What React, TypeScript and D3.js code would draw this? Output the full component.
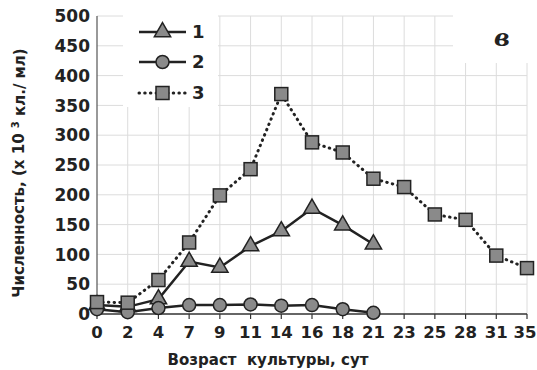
import { useEffect, useRef } from 'react'
import { select, scalePoint, scaleLinear, line, symbol, symbolTriangle } from 'd3'

const W = 537
const H = 370
const margin = { top: 16, right: 10, bottom: 56, left: 97 }

// culture age, days
const days = ['0', '2', '4', '7', '9', '11', '14', '16', '18', '21', '23', '25', '28', '31', '35']
const series1 = [15, 12, 25, 88, 78, 114, 139, 177, 149, 117]
const series2 = [8, 3, 10, 15, 15, 16, 14, 15, 8, 2]
const series3 = [20, 19, 57, 120, 199, 243, 369, 288, 271, 227, 213, 167, 158, 98, 77]
const yTicks = [0, 50, 100, 150, 200, 250, 300, 350, 400, 450, 500]
const legendNames = ['1', '2', '3']

const font = '"DejaVu Sans", Arial, sans-serif'
const dark = '#222'
const fillGray = '#8a8a8a'
const grid = '#dcdcdc'

const App = () => {
  const svgRef = useRef<SVGSVGElement>(null)

  useEffect(() => {
    const svg = select(svgRef.current)
    svg.selectAll('*').remove()

    const x = scalePoint<string>().domain(days).range([margin.left, W - margin.right])
    const y = scaleLinear().domain([0, 500]).range([H - margin.bottom, margin.top])
    const x0 = margin.left
    const x1 = W - margin.right

    // grid
    const g = svg.append('g')
    g.selectAll('.hg').data(yTicks.filter(d => d > 0)).join('line')
      .attr('x1', x0).attr('x2', x1).attr('y1', d => y(d)).attr('y2', d => y(d))
      .attr('stroke', grid).attr('stroke-width', 1)
    g.selectAll('.vg').data(days.slice(1)).join('line')
      .attr('x1', d => x(d)!).attr('x2', d => x(d)!).attr('y1', y(500)).attr('y2', y(0))
      .attr('stroke', grid).attr('stroke-width', 1)

    // white boxes for legend and panel letter
    svg.append('rect').attr('x', 123).attr('y', 10).attr('width', 95).attr('height', 97).attr('fill', '#fff')
    svg.append('rect').attr('x', 453).attr('y', 0).attr('width', 84).attr('height', 63).attr('fill', '#fff')

    // axes
    svg.append('line').attr('x1', x0).attr('x2', x0).attr('y1', y(500)).attr('y2', y(0))
      .attr('stroke', '#555').attr('stroke-width', 1.2)
    svg.append('line').attr('x1', x0).attr('x2', x1).attr('y1', y(0)).attr('y2', y(0))
      .attr('stroke', '#333').attr('stroke-width', 1.5)
    svg.selectAll('.xt').data(days).join('line')
      .attr('x1', d => x(d)!).attr('x2', d => x(d)!).attr('y1', y(0)).attr('y2', y(0) + 5)
      .attr('stroke', '#333').attr('stroke-width', 1.2)

    svg.selectAll('.yl').data(yTicks).join('text')
      .attr('x', x0 - 7).attr('y', d => y(d)).attr('dy', '0.36em')
      .attr('text-anchor', 'end').attr('font-family', font).attr('font-weight', 'bold')
      .attr('font-size', 17).attr('fill', dark).text(d => d)
    svg.selectAll('.xl').data(days).join('text')
      .attr('x', d => x(d)!).attr('y', y(0) + 24)
      .attr('dx', (d, i) => (i === days.length - 1 ? -2 : 0))
      .attr('text-anchor', 'middle').attr('font-family', font).attr('font-weight', 'bold')
      .attr('font-size', 16.5).attr('fill', dark).text(d => d)

    svg.append('text').attr('x', 268).attr('y', 365).attr('text-anchor', 'middle')
      .attr('font-family', font).attr('font-weight', 'bold').attr('font-size', 15).attr('fill', dark)
      .attr('xml:space', 'preserve').text('Возраст  культуры, сут')

    const yt = svg.append('text').attr('transform', `translate(19,${173}) rotate(-90)`)
      .attr('text-anchor', 'middle').attr('dy', '0.36em')
      .attr('font-family', font).attr('font-weight', 'bold').attr('font-size', 15).attr('fill', dark)
    yt.append('tspan').text('Численность, (х 10 ')
    yt.append('tspan').attr('font-size', 10).attr('dy', '-0.5em').text('3')
    yt.append('tspan').attr('dy', '0.35em').text(' кл./ мл)')

    svg.append('text').attr('x', 502).attr('y', 46).attr('text-anchor', 'middle')
      .attr('font-family', '"DejaVu Serif", serif').attr('font-style', 'italic').attr('font-weight', 'bold')
      .attr('font-size', 24).attr('fill', dark).text('в')

    // lines
    const mk = (vals: number[]) => line<number>().x((_, i) => x(days[i])!).y(d => y(d))(vals)
    svg.append('path').attr('d', mk(series3)).attr('fill', 'none').attr('stroke', dark)
      .attr('stroke-width', 3).attr('stroke-dasharray', '0.5 5.2').attr('stroke-linecap', 'round')
    svg.append('path').attr('d', mk(series1)).attr('fill', 'none').attr('stroke', dark).attr('stroke-width', 2.5)
    svg.append('path').attr('d', mk(series2)).attr('fill', 'none').attr('stroke', dark).attr('stroke-width', 2.5)

    const tri = symbol().type(symbolTriangle).size(115)()
    const drawTri = (sel: any) => sel.append('path').attr('d', tri).attr('fill', fillGray).attr('stroke', dark).attr('stroke-width', 1.5)
    const drawCirc = (sel: any) => sel.append('circle').attr('r', 6.5).attr('fill', fillGray).attr('stroke', dark).attr('stroke-width', 1.5)
    const drawSq = (sel: any) => sel.append('rect').attr('x', -6.5).attr('y', -6.5).attr('width', 13).attr('height', 13)
      .attr('fill', fillGray).attr('stroke', dark).attr('stroke-width', 1.5)

    series1.forEach((v, i) => drawTri(svg.append('g').attr('transform', `translate(${x(days[i])},${y(v)})`)))
    series2.forEach((v, i) => drawCirc(svg.append('g').attr('transform', `translate(${x(days[i])},${y(v)})`)))
    series3.forEach((v, i) => drawSq(svg.append('g').attr('transform', `translate(${x(days[i])},${y(v)})`)))

    // legend
    const lx0 = 139
    const lx1 = 186
    const rows = [32, 62, 93]
    legendNames.forEach((name, i) => {
      const ly = rows[i]
      const ln = svg.append('line').attr('x1', lx0).attr('x2', lx1).attr('y1', ly).attr('y2', ly).attr('stroke', dark)
      if (i === 2) ln.attr('stroke-width', 3).attr('stroke-dasharray', '0.5 5.2').attr('stroke-linecap', 'round')
      else ln.attr('stroke-width', 2.5)
      const mg = svg.append('g').attr('transform', `translate(${(lx0 + lx1) / 2},${ly})`)
      if (i === 0) drawTri(mg)
      else if (i === 1) drawCirc(mg)
      else drawSq(mg)
      svg.append('text').attr('x', 192).attr('y', ly).attr('dy', '0.36em')
        .attr('font-family', font).attr('font-weight', 'bold').attr('font-size', 18).attr('fill', dark).text(name)
    })
  }, [])

  return <svg ref={svgRef} width={W} height={H} style={{ display: 'block', position: 'absolute', left: 0, top: 0, background: '#fff' }} />
}

export default App
